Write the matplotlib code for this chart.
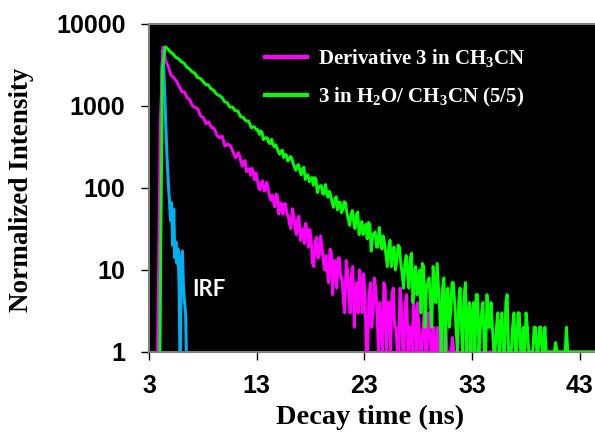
import numpy as np
import matplotlib
matplotlib.use('Agg')
import matplotlib.pyplot as plt
from matplotlib.ticker import FixedLocator, FuncFormatter, NullLocator
from matplotlib.lines import Line2D

plt.rcParams['font.family'] = 'Liberation Sans'
plt.rcParams['font.weight'] = 'bold'
plt.rcParams['mathtext.fontset'] = 'custom'
plt.rcParams['mathtext.rm'] = 'Liberation Serif:bold'
plt.rcParams['mathtext.bf'] = 'Liberation Serif:bold'
plt.rcParams['mathtext.it'] = 'Liberation Serif:bold:italic'
plt.rcParams['mathtext.default'] = 'rm'

# decay channels: first channel time (ns) + fixed channel width
step = 0.25
deriv_t0 = 3.8
deriv = [1, 600, 5200, 3550, 2990, 2350, 2230, 2010, 1730, 1490, 1480,
         1250, 1190, 990, 960, 910, 750, 724, 607, 638, 544,
         530, 440, 410, 428, 324, 343, 327, 275, 233, 269,
         205, 211, 158, 171, 174, 126, 129, 95, 122, 94,
         100, 71, 68, 84, 48, 64, 64, 48, 36, 56,
         34, 41, 23, 32, 37, 19, 23, 11, 25, 15,
         20, 10, 10, 18, 5, 13, 14, 8, 4, 13,
         5, 9, 2, 7, 10, 3, 5, 1, 7, 3,
         6, 1, 2, 7, 1, 4, 5, 2, 1, 6,
         1, 4, 1, 2, 4, 1, 2, 1, 3, 1,
         3, 1, 1, 2, 1, 1, 2, 1, 1, 1,
         1, 1, 1, 1, 1, 1.5, 1, 1, 1, 1,
         1, 1, 1, 1, 1, 1, 1, 1, 1, 1,
         1, 1, 1, 1, 1, 1, 1, 1, 1, 1,
         1, 1, 1, 1, 1, 1, 1, 1, 1, 1,
         1, 1, 1, 1, 1, 1, 1, 1, 1, 1,
         1, 1]
# in-between channels of the noisy part
deriv_half_t0 = 11.425
deriv_half = [242, 184, 216, 166, 143, 155, 152, 100, 117, 92,
              117, 81, 82, 59, 78, 66, 48, 64, 46, 32,
              47, 27, 45, 28, 21, 30, 31, 12, 22, 14,
              26, 13, 15, 7, 16, 13, 6, 14, 8, 3,
              10, 3, 11, 5, 3, 7, 9, 1, 5, 2,
              8, 3, 4, 1, 6, 4, 1, 6, 2, 1,
              4, 1, 5, 2, 1, 3, 4, 1, 2, 1,
              3, 1, 2, 1, 1, 2, 1, 1, 1, 1.5,
              1, 1, 1, 1, 1, 1, 2, 1, 1, 1,
              1, 1, 1, 1, 1, 1, 1, 1, 1, 1,
              1, 1, 1, 1, 1, 1, 1, 1, 1, 1,
              1, 1, 1, 1, 1, 1, 1, 1, 1, 1,
              1, 1, 1, 1, 1, 1, 1, 1, 1, 1,
              1, 1]

mix_t0 = 4.0
mix = [1, 2900, 5250, 4980, 4520, 4300, 3900, 3770, 3460, 3340,
       2980, 2840, 2610, 2520, 2220, 2180, 2010, 1825, 1810, 1620,
       1560, 1400, 1340, 1285, 1130, 1097, 967, 970, 874, 870,
       741, 723, 655, 654, 543, 560, 510, 450, 473, 407,
       405, 347, 343, 337, 279, 282, 235, 252, 220, 232,
       181, 185, 162, 173, 127, 145, 129, 108, 128, 101,
       107, 84, 89, 91, 67, 73, 54, 67, 55, 65,
       42, 47, 39, 47, 27, 39, 33, 24, 36, 25,
       29, 19, 23, 26, 15, 19, 11, 19, 13, 19,
       9, 12, 9, 14, 4, 11, 8, 3, 11, 6,
       8, 2, 6, 12, 3, 6, 1, 6, 3, 7,
       2, 4, 2, 5, 1, 4, 3, 1, 5, 2,
       4, 1, 2, 4, 1, 2, 1, 3, 1, 5,
       1, 2, 1, 3, 1, 2, 3, 1, 1, 2,
       1, 2, 1, 2, 1, 1, 1, 1.3, 1, 1,
       1, 2, 1, 1, 1, 1, 1, 1, 1, 1,
       1, 1]
mix_half_t0 = 13.125
mix_half = [511, 494, 388, 410, 356, 392, 316, 311, 257, 288,
            257, 215, 242, 199, 164, 193, 145, 178, 138, 119,
            134, 134, 88, 106, 85, 110, 77, 80, 58, 78,
            67, 50, 68, 49, 35, 53, 32, 51, 33, 27,
            36, 38, 17, 28, 19, 33, 18, 21, 11, 23,
            18, 10, 20, 12, 6, 15, 6, 16, 8, 5,
            10, 12, 2, 7, 4, 11, 4, 6, 1, 8,
            5, 2, 7, 4, 1, 6, 1, 7, 3, 1,
            4, 5, 1, 3, 1, 5, 2, 2, 1, 3,
            2, 1, 4, 1, 1, 3, 1, 3, 1, 1,
            2, 1, 1, 2, 1, 2, 1, 1, 1, 1,
            1, 1, 1, 1, 1, 1, 1, 1, 1, 1,
            1, 1, 1, 1, 1]

irf_step = 0.1
irf_t0 = 4.0
irf = [1, 300, 3000, 4800, 2200, 1000, 420, 190, 110, 70,
       40, 66, 20, 55, 14, 22, 12, 18, 6, 0.5,
       14, 17, 6, 4, 3, 0.5]

labels = ['Derivative 3 in CH$_3$CN', '3 in H$_2$O/ CH$_3$CN (5/5)']
colors = ['#FF00FF', '#00FF00', '#00B0F0']
x_ticks = [3, 13, 23, 33, 43]
y_ticks = [1, 10, 100, 1000, 10000]


def merge(t0, vals, th0, vals_half):
    t = np.concatenate([t0 + step * np.arange(len(vals)), th0 + step * np.arange(len(vals_half))])
    v = np.concatenate([vals, vals_half])
    o = np.argsort(t)
    return t[o], v[o]


t_deriv, v_deriv = merge(deriv_t0, deriv, deriv_half_t0, deriv_half)
t_mix, v_mix = merge(mix_t0, mix, mix_half_t0, mix_half)
t_irf = irf_t0 + irf_step * np.arange(len(irf))

fig = plt.figure(figsize=(5.95, 4.34), dpi=100)
ax = fig.add_axes([0.2504, 0.189, 0.7496, 0.7558])
ax.set_facecolor('black')

ax.plot(t_irf, irf, color=colors[2], lw=2.2, zorder=2)
ax.plot(t_deriv, v_deriv, color=colors[0], lw=2.1, zorder=3)
ax.plot(t_mix, v_mix, color=colors[1], lw=2.1, zorder=4)

ax.set_yscale('log')
ax.set_xlim(3, 44.4)
ax.set_ylim(1, 10000)
ax.xaxis.set_major_locator(FixedLocator(x_ticks))
ax.yaxis.set_major_locator(FixedLocator(y_ticks))
ax.yaxis.set_minor_locator(NullLocator())
ax.xaxis.set_minor_locator(NullLocator())
ax.yaxis.set_major_formatter(FuncFormatter(lambda v, _: f'{v:g}'))
ax.xaxis.set_major_formatter(FuncFormatter(lambda v, _: f'{v:g}'))
ax.tick_params(axis='both', direction='out', length=6, width=1, color='black', labelsize=18)
ax.tick_params(axis='y', pad=11)
ax.tick_params(axis='x', pad=9.5)

for side in ['left', 'top', 'bottom']:
    ax.spines[side].set_color('#808080')
    ax.spines[side].set_linewidth(1.5)
ax.spines['right'].set_visible(False)

handles = [Line2D([], [], color=colors[0], lw=3), Line2D([], [], color=colors[1], lw=3)]
leg = ax.legend(handles, labels, loc='upper left', bbox_to_anchor=(0.26, 0.93),
                frameon=False, prop={'family': 'Liberation Serif', 'weight': 'bold', 'size': 15},
                handlelength=2.0, handletextpad=0.55, labelspacing=0.8,
                borderaxespad=0, borderpad=0)
for txt in leg.get_texts():
    txt.set_color('white')

ax.text(7.0, 5.7, 'IRF', color='white', fontsize=16, fontweight='bold',
        family='Lato', va='center', ha='left')

fig.text(370 / 595, 1 - 417 / 434, 'Decay time (ns)', family='Liberation Serif',
         fontsize=20.5, fontweight='bold', ha='center', va='center')
fig.text(22 / 595, 1 - 190 / 434, 'Normalized Intensity', family='Liberation Serif',
         fontsize=19.5, fontweight='bold', ha='center', va='center', rotation=90)

fig.savefig('out.png', dpi=100)
